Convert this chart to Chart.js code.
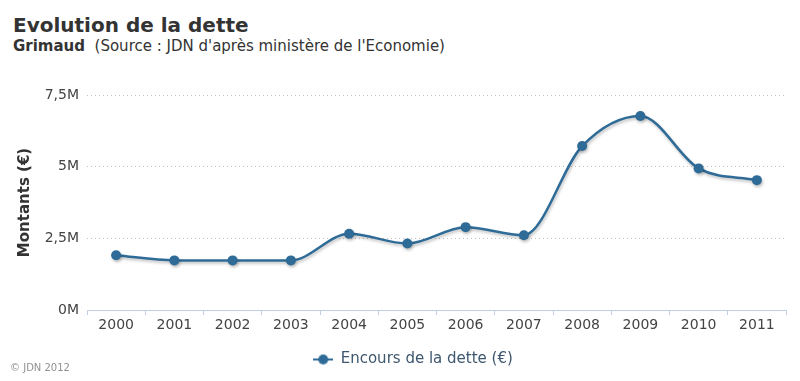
<!DOCTYPE html>
<html>
<head>
<meta charset="utf-8">
<script src="https://cdn.jsdelivr.net/npm/chart.js@4/dist/chart.umd.min.js"></script>
<style>
	body{margin:0;width:800px;height:381px;position:relative;background:#fff;font-family:"DejaVu Sans",sans-serif;overflow:hidden}
	#graphWrap{position:absolute;left:0;top:0;width:800px;height:381px}
	.titre{position:absolute;left:13px;top:13px;font-size:20px;font-weight:bold;color:#333;white-space:nowrap}
	.sousTitre{position:absolute;left:13px;top:37px;font-size:15px;color:#333;white-space:nowrap}
	.copy{position:absolute;left:10px;top:362px;font-size:10px;color:#909090}
</style>
</head>
<body>
<div class="titre">Evolution de la dette</div>
<div class="sousTitre"><b>Grimaud</b>&nbsp; (Source : JDN d'après ministère de l'Economie)</div>
<div id="graphWrap"><canvas id="line_Dette" width="800" height="381"></canvas></div>
<div class="copy">© JDN 2012</div>
<script>
// données (millions d'euros)
const annees = ['2000','2001','2002','2003','2004','2005','2006','2007','2008','2009','2010','2011'];
const encours = [1.91, 1.73, 1.73, 1.73, 2.66, 2.32, 2.89, 2.61, 5.72, 6.77, 4.94, 4.53];
const yTickLabels = ['0M','2,5M','5M','7,5M'];

const couleur = '#2e6b97';

// marqueur de légende : trait + point
const legendMark = document.createElement('canvas');
legendMark.width = 20; legendMark.height = 12;
const m = legendMark.getContext('2d');
m.strokeStyle = couleur; m.lineWidth = 2;
m.beginPath(); m.moveTo(0,6); m.lineTo(20,6); m.stroke();
m.fillStyle = couleur;
m.beginPath(); m.arc(10,6,5,0,Math.PI*2); m.fill();

// ombre sous la courbe
const shadowPlugin = {
	id : 'shadow',
	beforeDatasetDraw(chart){
		const c = chart.ctx;
		c.save();
		c.shadowColor = 'rgba(0,0,0,0.25)';
		c.shadowOffsetX = 1;
		c.shadowOffsetY = 2;
		c.shadowBlur = 3;
	},
	afterDatasetDraw(chart){ chart.ctx.restore(); }
};

// légende un peu décalée vers la droite (centrée sous la zone du graphe)
const legendShift = {
	id : 'legendShift',
	afterLayout(chart){
		chart.legend.left += 15;
		chart.legend.right += 15;
	}
};

new Chart(document.getElementById('line_Dette'), {
	type : 'line',
	data : {
		labels : annees,
		datasets : [{
			label : 'Encours de la dette (€)',
			data : encours,
			borderColor : couleur,
			backgroundColor : couleur,
			borderWidth : 2.5,
			cubicInterpolationMode : 'monotone',
			pointRadius : 5,
			pointHoverRadius : 5,
			pointBackgroundColor : couleur,
			pointBorderWidth : 0,
			fill : false
		}]
	},
	options : {
		responsive : false,
		animation : false,
		layout : { padding : { top : 95, left : 10, right : 14, bottom : 4 } },
		plugins : {
			tooltip : { enabled : false },
			legend : {
				position : 'bottom',
				labels : {
					usePointStyle : true,
					pointStyle : legendMark,
					pointStyleWidth : 20,
					color : '#3e576f',
					font : { family : 'DejaVu Sans', size : 15 },
					padding : 15
				}
			}
		},
		scales : {
			x : {
				offset : true,
				afterFit : (scale) => { scale.height = 27; },
				grid : {
					offset : true,
					drawOnChartArea : false,
					drawTicks : true,
					tickLength : 5,
					color : '#c0d0e0'
				},
				border : { color : '#c0d0e0', width : 1 },
				ticks : {
					color : '#444',
					font : { family : 'DejaVu Sans', size : 14 },
					padding : 2,
					maxRotation : 0
				}
			},
			y : {
				min : 0,
				max : 7.5,
				afterFit : (scale) => { scale.width = 77; },
				border : { display : false, dash : [1,3] },
				grid : {
					drawTicks : false,
					color : (ctx) => ctx.tick && ctx.tick.value === 0 ? 'rgba(0,0,0,0)' : '#c0c0c0'
				},
				ticks : {
					stepSize : 2.5,
					padding : 8,
					color : '#444',
					font : { family : 'DejaVu Sans', size : 14 },
					callback : (v, i) => yTickLabels[i]
				},
				title : {
					display : true,
					text : 'Montants (€)',
					color : '#333',
					font : { family : 'DejaVu Sans', size : 15, weight : 'bold' },
					padding : { top : 6, bottom : 0 }
				}
			}
		}
	},
	plugins : [shadowPlugin, legendShift]
});
</script>
</body>
</html>
